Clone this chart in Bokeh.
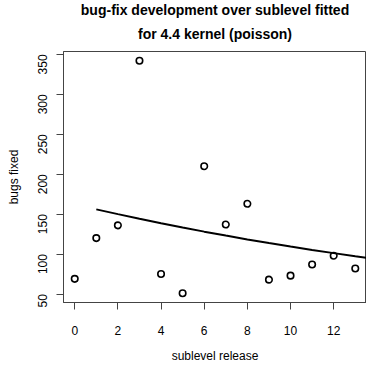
from bokeh.plotting import figure
from bokeh.models import FixedTicker, Range1d, Title
from bokeh.embed import file_html
from bokeh.resources import INLINE
import math

# data
sublevel = [0, 1, 2, 3, 4, 5, 6, 7, 8, 9, 10, 11, 12, 13]
bugs_fixed = [69, 120, 136, 342, 75, 51, 210, 137, 163, 68, 73, 87, 98, 82]

# fitted (poisson) curve
fit_x = [1, 2, 3, 4, 5, 6, 7, 8, 9, 10, 11, 12, 13, 14]
fit_y = [156.0, 150.0, 144.2, 138.6, 133.3, 128.1, 123.2, 118.4, 113.9, 109.5, 105.2, 101.2, 97.3, 93.5]

x_ticks = [0, 2, 4, 6, 8, 10, 12]
y_ticks = [50, 100, 150, 200, 250, 300, 350]

title_lines = ["bug-fix development over sublevel fitted", "for 4.4 kernel (poisson)"]

FONT = "Liberation Sans"

p = figure(width=366, height=365, output_backend="svg", toolbar_location=None,
           x_range=Range1d(-0.52, 13.52), y_range=Range1d(39.4, 353.6),
           title=None,
           min_border_left=63, min_border_right=0, min_border_top=51, min_border_bottom=58)

t2 = Title(text=title_lines[1], align="center", text_font=FONT, text_font_size="14px",
           text_font_style="bold", text_color="black", standoff=20)
t1 = Title(text=title_lines[0], align="center", text_font=FONT, text_font_size="14px",
           text_font_style="bold", text_color="black", standoff=-9)
p.add_layout(t2, "above")
p.add_layout(t1, "above")

p.xgrid.visible = False
p.ygrid.visible = False
p.outline_line_color = "#444444"
p.outline_line_width = 1
p.background_fill_color = "white"
p.border_fill_color = "white"

for ax in (p.xaxis[0], p.yaxis[0]):
    ax.minor_tick_line_color = None
    ax.major_tick_in = 0
    ax.major_tick_out = 7
    ax.major_tick_line_color = "#444444"
    ax.axis_line_color = "#444444"
    ax.major_label_text_font = FONT
    ax.major_label_text_font_size = "12px"
    ax.major_label_text_color = "black"
    ax.axis_label_text_font = FONT
    ax.axis_label_text_font_size = "12px"
    ax.axis_label_text_font_style = "normal"
    ax.axis_label_text_color = "black"

p.xaxis.ticker = FixedTicker(ticks=x_ticks)
p.yaxis.ticker = FixedTicker(ticks=y_ticks)
p.xaxis.axis_label = "sublevel release"
p.yaxis.axis_label = "bugs fixed"
p.xaxis.major_label_standoff = 16
p.xaxis.axis_label_standoff = 11
p.yaxis.major_label_standoff = 14
p.yaxis.axis_label_standoff = 10
p.yaxis.major_label_orientation = math.pi / 2

p.line(fit_x, fit_y, line_color="black", line_width=2)
p.scatter(sublevel, bugs_fixed, marker="circle", size=6.5, fill_color=None,
          line_color="black", line_width=1.6)

open("out.html", "w").write(file_html(p, INLINE))
